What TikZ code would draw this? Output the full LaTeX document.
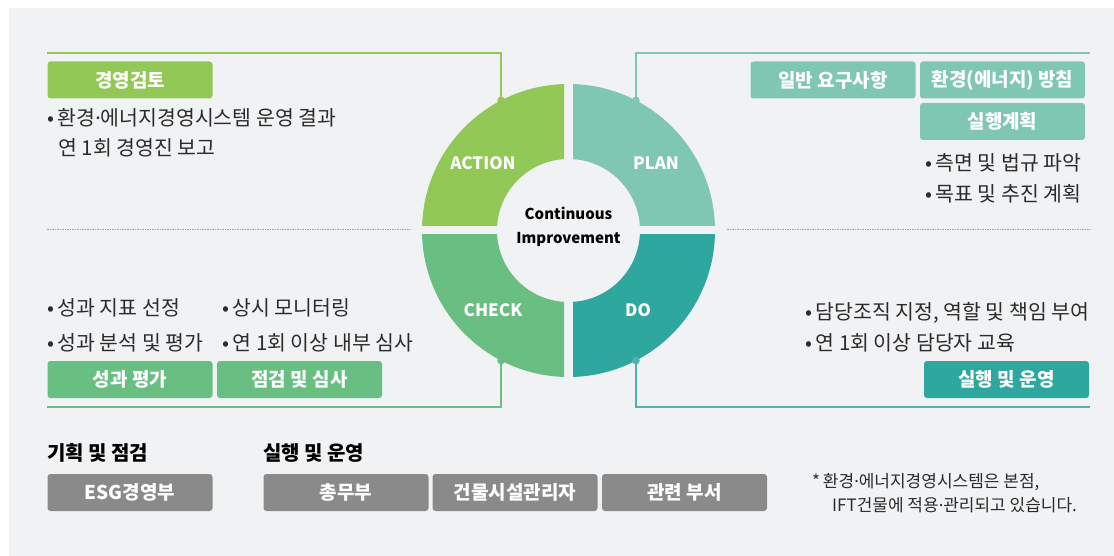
\documentclass[tikz,border=0pt]{standalone}
\usepackage{fontspec}
\setmainfont{Noto Sans CJK KR}
\newfontfamily\dotfont{Noto Sans}
\newcommand{\kdot}{{\dotfont ·}}
\definecolor{bgcol}{HTML}{F1F2F4}
\definecolor{actcol}{HTML}{92C856}
\definecolor{plancol}{HTML}{7FC6B3}
\definecolor{checkcol}{HTML}{69BE82}
\definecolor{docol}{HTML}{2EA79F}
\definecolor{boxgray}{HTML}{8A8A8A}
\definecolor{txtcol}{HTML}{2B2B2B}
\begin{document}
\begin{tikzpicture}[x=1pt,y=-1pt,
	tagbox/.style={rounded corners=3pt, minimum width=165pt, minimum height=37pt, inner sep=0pt, text=white, font=\fontsize{19}{22}\selectfont\bfseries},
	item/.style={anchor=west, inner sep=0pt, text=txtcol, font=\fontsize{20.5}{24}\selectfont},
	heading/.style={anchor=west, inner sep=0pt, text=black, font=\fontsize{20}{24}\selectfont\bfseries},
	seglabel/.style={text=white, font=\fontsize{17}{20}\selectfont\bfseries},
	link/.style={line width=1.2pt},
	joint/.style={draw, fill=white, line width=1.2pt},
	sepline/.style={gray!70, line width=0.6pt, dash pattern=on 1.5pt off 1pt}]
	\useasboundingbox (0,0) rectangle (1114,556);
	\fill [white] (0,0) rectangle (1114,556);
	\fill [bgcol] (9,8) rectangle (1114,556);

	% PDCA ring
	\begin{scope}[shift={(568.5,230.5)}, y=1pt]
		\begin{scope}
			\clip (-4.5,4.5) rectangle (-150,150);
			\fill [actcol, even odd rule] (0,0) circle (146.5) (0,0) circle (71.5);
		\end{scope}
		\begin{scope}
			\clip (4.5,4.5) rectangle (150,150);
			\fill [plancol, even odd rule] (0,0) circle (146.5) (0,0) circle (71.5);
		\end{scope}
		\begin{scope}
			\clip (-4.5,-4.5) rectangle (-150,-150);
			\fill [checkcol, even odd rule] (0,0) circle (146.5) (0,0) circle (71.5);
		\end{scope}
		\begin{scope}
			\clip (4.5,-4.5) rectangle (150,-150);
			\fill [docol, even odd rule] (0,0) circle (146.5) (0,0) circle (71.5);
		\end{scope}
		\node [seglabel] (action) at (-85.5,67.5) {ACTION};
		\node [seglabel] (plan) at (87.5,67.5) {PLAN};
		\node [seglabel] (check) at (-75.5,-79.5) {CHECK};
		\node [seglabel] (do) at (69.5,-79.5) {DO};
		\node [align=center, font=\fontsize{15}{24}\selectfont\bfseries] (core) at (0,3.5) {Continuous\\Improvement};
		\coordinate (actdot) at (117.4:146.5);
		\coordinate (plandot) at (62.6:146.5);
		\coordinate (checkdot) at (242.6:146.5);
		\coordinate (dodot) at (297.4:146.5);
	\end{scope}

	% connectors
	\coordinate (actend) at (47,53);
	\coordinate (planend) at (1090,53);
	\coordinate (checkend) at (47,407);
	\coordinate (doend) at (1090,407);
	\draw [link, actcol] (actdot) |- (actend);
	\draw [link, plancol] (plandot) |- (planend);
	\draw [link, checkcol] (checkdot) |- (checkend);
	\draw [link, docol!85] (dodot) |- (doend);
	\draw [joint, actcol] (actdot) circle (3.2);
	\draw [joint, plancol] (plandot) circle (3.2);
	\draw [joint, checkcol] (checkdot) circle (3.2);
	\draw [joint, docol!85] (dodot) circle (3.2);

	\coordinate (leftA) at (47,229.5);
	\coordinate (leftB) at (410,229.5);
	\coordinate (rightA) at (727,229.5);
	\coordinate (rightB) at (1090,229.5);
	\draw [sepline] (leftA) -- (leftB);
	\draw [sepline] (rightA) -- (rightB);

	% ACTION
	\node [tagbox, fill=actcol] (review) at (130,80) {경영검토};
	\node [item] (review1) at (47,118) {•\,환경\kdot 에너지경영시스템 운영 결과};
	\node [item] (review2) at (58,148) {연 1회 경영진 보고};

	% PLAN
	\node [tagbox, fill=plancol] (general) at (833,80) {일반 요구사항};
	\node [tagbox, fill=plancol] (policy) at (1002.5,80) {환경(에너지) 방침};
	\node [tagbox, fill=plancol] (actplan) at (1002.5,121.5) {실행계획};
	\node [item] (plan1) at (925,163) {•\,측면 및 법규 파악};
	\node [item] (plan2) at (925,194) {•\,목표 및 추진 계획};

	% CHECK
	\node [item] (check1) at (47,308) {•\,성과 지표 선정};
	\node [item] (check2) at (47,343) {•\,성과 분석 및 평가};
	\node [item] (check3) at (222,308) {•\,상시 모니터링};
	\node [item] (check4) at (222,343) {•\,연 1회 이상 내부 심사};
	\node [tagbox, fill=checkcol] (perf) at (130,379.5) {성과 평가};
	\node [tagbox, fill=checkcol] (audit) at (299.5,379.5) {점검 및 심사};

	% DO
	\node [item] (do1) at (805,313) {•\,담당조직 지정, 역할 및 책임 부여};
	\node [item] (do2) at (805,343) {•\,연 1회 이상 담당자 교육};
	\node [tagbox, fill=docol] (operate) at (1006.5,379.5) {실행 및 운영};

	% organisation
	\node [heading] (planhead) at (47,453) {기획 및 점검};
	\node [heading] (dohead) at (263,453) {실행 및 운영};
	\node [tagbox, fill=boxgray] (esg) at (130,492.5) {ESG경영부};
	\node [tagbox, fill=boxgray] (general2) at (346,492.5) {총무부};
	\node [tagbox, fill=boxgray] (facility) at (515,492.5) {건물시설관리자};
	\node [tagbox, fill=boxgray] (related) at (684.5,492.5) {관련 부서};
	\node [item, font=\fontsize{17}{20}\selectfont] (note1) at (812,482) {*\,환경\kdot 에너지경영시스템은 본점,};
	\node [item, font=\fontsize{17}{20}\selectfont] (note2) at (832,505) {IFT건물에 적용\kdot 관리되고 있습니다.};
\end{tikzpicture}
\end{document}
